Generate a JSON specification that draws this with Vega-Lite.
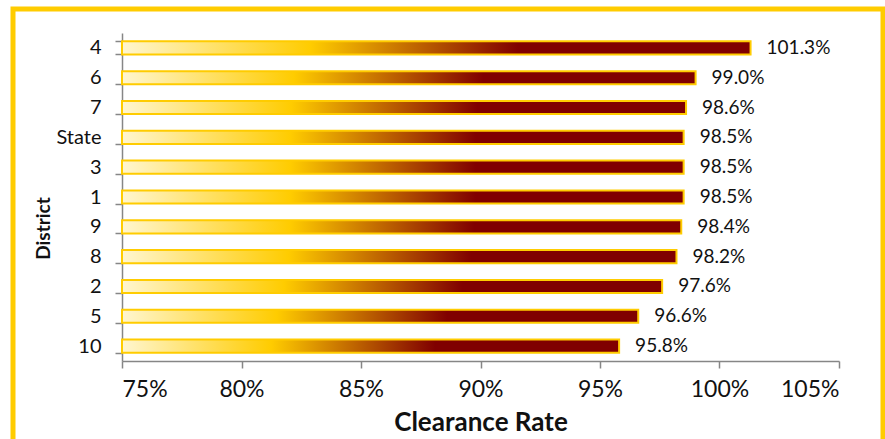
{
  "$schema": "https://vega.github.io/schema/vega-lite/v6.json",
  "autosize": {"type": "none"},
  "width": 870,
  "height": 436,
  "padding": {"left": 13, "top": 9, "right": 2, "bottom": -6},
  "background": "white",
  "config": {
    "view": {"stroke": "#FFCC00", "strokeWidth": 5},
    "font": "Lato",
    "axis": {"domainColor": "#868686", "tickColor": "#868686", "domainWidth": 1.5, "tickWidth": 1.5, "labelColor": "#111111", "titleColor": "#111111", "grid": false}
  },
  "data": {
    "values": [
      {"district": "4", "rate": 1.013},
      {"district": "6", "rate": 0.990},
      {"district": "7", "rate": 0.986},
      {"district": "State", "rate": 0.985},
      {"district": "3", "rate": 0.985},
      {"district": "1", "rate": 0.985},
      {"district": "9", "rate": 0.984},
      {"district": "8", "rate": 0.982},
      {"district": "2", "rate": 0.976},
      {"district": "5", "rate": 0.966},
      {"district": "10", "rate": 0.958}
    ]
  },
  "encoding": {
    "y": {
      "field": "district",
      "type": "nominal",
      "sort": null,
      "scale": {"range": [24, 352], "paddingInner": 0.56, "paddingOuter": 0.28},
      "axis": {
        "title": "District",
        "offset": -109,
        "tickBand": "extent",
        "tickSize": 7,
        "labelPadding": 14,
        "labelFontSize": 20,
        "titleFontSize": 19,
        "titleFontWeight": "bold",
        "titleX": -79,
        "titleY": 219,
        "titleAngle": -90,
        "titleAlign": "center",
        "titleBaseline": "middle"
      }
    },
    "x": {
      "field": "rate",
      "type": "quantitative",
      "scale": {"domain": [0.75, 1.05], "range": [109, 826], "nice": false, "zero": false},
      "axis": {
        "title": "Clearance Rate",
        "offset": -84,
        "values": [0.75, 0.8, 0.85, 0.9, 0.95, 1.0, 1.05],
        "format": ".0%",
        "tickSize": 7,
        "labelPadding": 10,
        "labelFontSize": 23,
        "titleFontSize": 26,
        "titleFontWeight": "bold",
        "titlePadding": 8
      }
    }
  },
  "layer": [
    {
      "mark": {
        "type": "bar",
        "stroke": "#FFCC00",
        "strokeWidth": 2,
        "fill": {
          "gradient": "linear",
          "x1": 0, "y1": 0, "x2": 1, "y2": 0,
          "stops": [
            {"offset": 0, "color": "#FFF6D0"},
            {"offset": 0.3, "color": "#FFCC00"},
            {"offset": 0.63, "color": "#800000"},
            {"offset": 1, "color": "#800000"}
          ]
        }
      },
      "encoding": {"x2": {"datum": 0.75}}
    },
    {
      "mark": {"type": "text", "align": "left", "baseline": "middle", "dx": 16, "fontSize": 19, "color": "#111111"},
      "encoding": {"text": {"field": "rate", "type": "quantitative", "format": ".1%"}}
    }
  ]
}
